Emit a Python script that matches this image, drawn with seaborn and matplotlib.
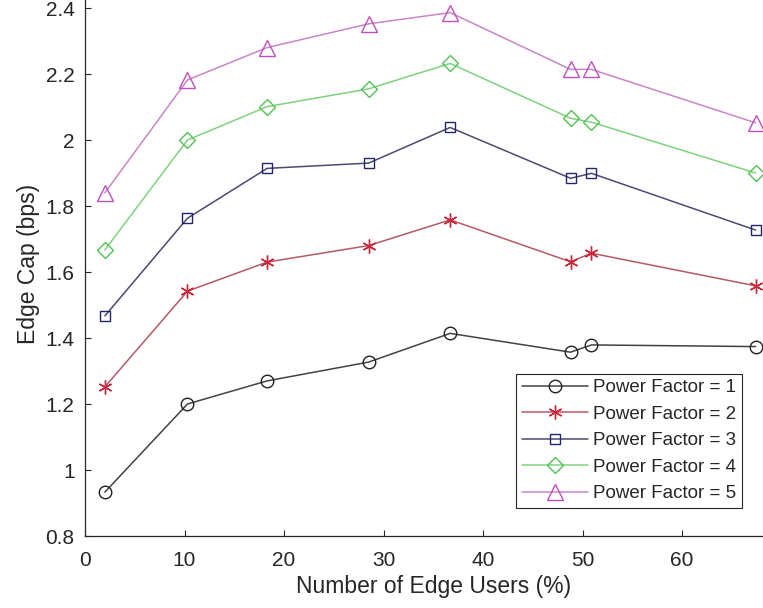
import numpy as np
import pandas as pd
import matplotlib.pyplot as plt
import seaborn as sns

# values
edge_users = [2.0, 10.3, 18.3, 28.5, 36.7, 48.8, 50.9, 67.4]
pf1 = [0.933, 1.200, 1.270, 1.327, 1.414, 1.357, 1.379, 1.374]
pf2 = [1.252, 1.542, 1.630, 1.680, 1.758, 1.631, 1.657, 1.558]
pf3 = [1.467, 1.763, 1.914, 1.930, 2.038, 1.884, 1.899, 1.727]
pf4 = [1.667, 2.000, 2.101, 2.155, 2.232, 2.066, 2.054, 1.900]
pf5 = [1.840, 2.182, 2.280, 2.352, 2.386, 2.214, 2.214, 2.052]
labels = ['Power Factor = 1', 'Power Factor = 2', 'Power Factor = 3',
          'Power Factor = 4', 'Power Factor = 5']

df = pd.concat([
    pd.DataFrame({'x': edge_users, 'y': vals, 'series': lab})
    for vals, lab in zip([pf1, pf2, pf3, pf4, pf5], labels)
])

line_colors = ['#424242', '#b45a64', '#4a4a72', '#7ed27e', '#c886c8']
marker_colors = ['#222222', '#c8283c', '#24246e', '#52c052', '#c050c0']
markers = ['o', (6, 2, 0), 's', 'D', '^']
msizes = [9, 10, 7.5, 8, 11]

sns.set_style('ticks')
plt.rcParams['font.family'] = ['Liberation Sans', 'DejaVu Sans']

fig = plt.figure(figsize=(7.63, 6.08), dpi=100)
# axes extends past the top and right edges (the reference is cropped)
ax = fig.add_axes([85 / 763, 72 / 608, 70 * 9.95 / 763, 1.65 * 330 / 608])

ax = sns.lineplot(data=df, x='x', y='y', hue='series', style='series',
                  palette=line_colors, markers=False, dashes=False,
                  linewidth=1.1, legend=False, ax=ax)

handles = []
for lab, lc, mc, mk, ms in zip(labels, line_colors, marker_colors, markers, msizes):
    sub = df[df['series'] == lab]
    ax.plot(sub['x'], sub['y'], linestyle='none', marker=mk, markersize=ms,
            markerfacecolor='none', markeredgecolor=mc, markeredgewidth=1.0)
    h, = ax.plot([], [], color=lc, linewidth=1.1, marker=mk, markersize=ms,
                 markerfacecolor='none', markeredgecolor=mc, markeredgewidth=1.0)
    handles.append(h)

ax.set_xlim(0, 70)
ax.set_ylim(0.8, 2.45)
ax.set_xticks([0, 10, 20, 30, 40, 50, 60])
ax.set_yticks([0.8, 1.0, 1.2, 1.4, 1.6, 1.8, 2.0, 2.2, 2.4])
ax.set_yticklabels(['0.8', '1', '1.2', '1.4', '1.6', '1.8', '2', '2.2', '2.4'])
ax.tick_params(direction='in', length=4.5, width=0.8, colors='#262626',
               labelsize=15, top=True, right=True)
ax.tick_params(axis='x', pad=10.5)
ax.tick_params(axis='y', pad=7.5)
for s in ax.spines.values():
    s.set_color('#262626')
    s.set_linewidth(0.9)

ax.set_xlabel('Number of Edge Users (%)', fontsize=16.5, color='#262626', labelpad=4)
ax.set_ylabel('Edge Cap (bps)', fontsize=16.5, color='#262626', labelpad=4)

leg = ax.legend(handles, labels, loc='lower right',
                bbox_to_anchor=(742 / 763, 1 - 508 / 608),
                bbox_transform=fig.transFigure,
                fontsize=13.5, frameon=True, fancybox=False, framealpha=1,
                edgecolor='#262626', handlelength=3.5, handletextpad=0.3,
                borderpad=0.3, labelspacing=0.5, borderaxespad=0)
leg.get_frame().set_linewidth(0.8)

fig.savefig('out.png', dpi=100)
